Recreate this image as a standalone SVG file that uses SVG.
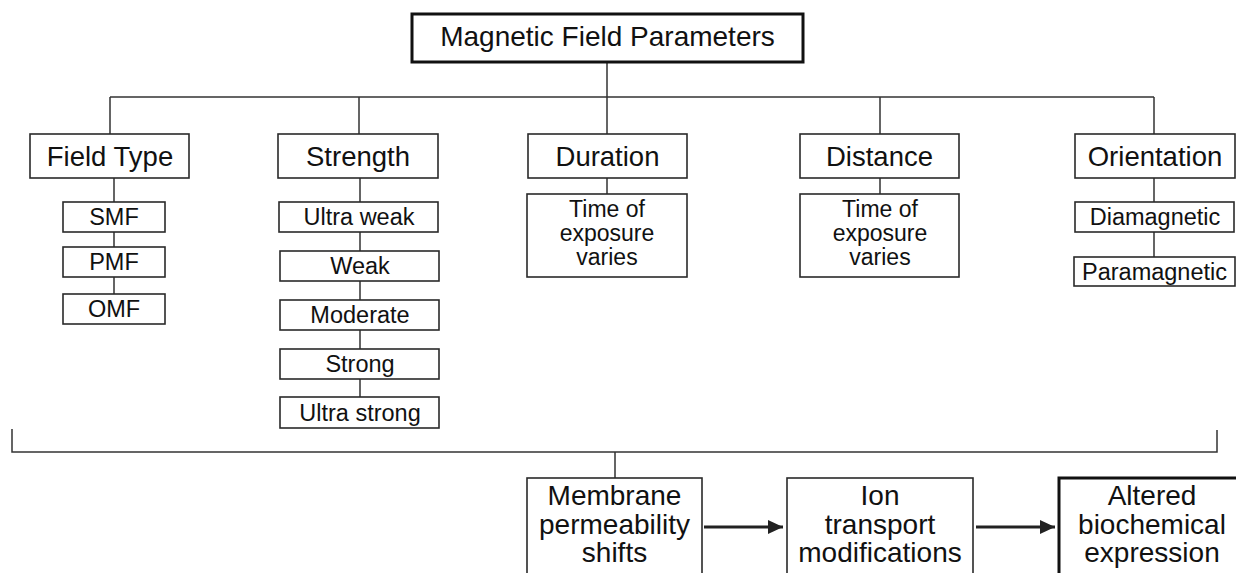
<svg xmlns="http://www.w3.org/2000/svg" width="1236" height="573" viewBox="0 0 1236 573">
<style>
.box{fill:#fff;stroke:#2a2a2a;stroke-width:1.6}
.thick{fill:#fff;stroke:#111;stroke-width:3}
.ln{fill:none;stroke:#333;stroke-width:1.5}
.arr{fill:none;stroke:#222;stroke-width:3}
text{font-family:"Liberation Sans",Arial,Helvetica,sans-serif;fill:#111;text-anchor:middle}
.t28{font-size:28px}
.t27{font-size:27.5px}
.t24{font-size:23.5px}
.t23{font-size:23px}
</style>
<defs>
<marker id="ah" viewBox="0 0 10 10" refX="10" refY="5" markerWidth="5" markerHeight="4.6" orient="auto" markerUnits="strokeWidth" preserveAspectRatio="none">
<path d="M0,0 L10,5 L0,10 Z" fill="#222"/>
</marker>
</defs>
<rect width="1236" height="573" fill="#fff"/>
<g id="connectors">
<path class="ln" d="M607,62 V97 M110,97 H1154 M110,97 V134 M359,97 V134 M607,97 V134 M880,97 V134 M1154,97 V134"/>
<path class="ln" d="M114,178 V294 M360,178 V397 M607,178 V194 M880,178 V194 M1154,178 V257"/>
<path class="ln" d="M12,429 V452 H1217 V430 M615,452 V478"/>
<path class="arr" d="M704,527 H783" marker-end="url(#ah)"/>
<path class="arr" d="M976,527 H1055" marker-end="url(#ah)"/>
</g>
<g id="root"><rect class="thick" x="412" y="14" width="391" height="48"/><text class="t28" x="607.5" y="46">Magnetic Field Parameters</text></g>
<g id="field-type"><rect class="box" x="30" y="134" width="159" height="44"/><text class="t27" x="110" y="166">Field Type</text></g>
<g id="strength"><rect class="box" x="278" y="134" width="160" height="44"/><text class="t27" x="358" y="166">Strength</text></g>
<g id="duration"><rect class="box" x="528" y="134" width="159" height="44"/><text class="t27" x="607.5" y="166">Duration</text></g>
<g id="distance"><rect class="box" x="800" y="134" width="159" height="44"/><text class="t27" x="879.5" y="166">Distance</text></g>
<g id="orientation"><rect class="box" x="1075" y="134" width="160" height="44"/><text class="t27" x="1155" y="166">Orientation</text></g>
<g id="smf"><rect class="box" x="63" y="202" width="102" height="30"/><text class="t24" x="114" y="225">SMF</text></g>
<g id="pmf"><rect class="box" x="63" y="247" width="102" height="30"/><text class="t24" x="114" y="270">PMF</text></g>
<g id="omf"><rect class="box" x="63" y="294" width="102" height="30"/><text class="t24" x="114" y="317">OMF</text></g>
<g id="ultra-weak"><rect class="box" x="279" y="202" width="159" height="30"/><text class="t24" x="359" y="225">Ultra weak</text></g>
<g id="weak"><rect class="box" x="280" y="251" width="159" height="30"/><text class="t24" x="360" y="274">Weak</text></g>
<g id="moderate"><rect class="box" x="280" y="300" width="159" height="30"/><text class="t24" x="360" y="323">Moderate</text></g>
<g id="strong"><rect class="box" x="280" y="349" width="159" height="30"/><text class="t24" x="360" y="372">Strong</text></g>
<g id="ultra-strong"><rect class="box" x="280" y="397" width="159" height="31"/><text class="t24" x="360" y="421">Ultra strong</text></g>
<g id="duration-time"><rect class="box" x="527" y="194" width="160" height="83"/><text class="t23" x="607" y="217">Time of</text><text class="t23" x="607" y="241">exposure</text><text class="t23" x="607" y="265">varies</text></g>
<g id="distance-time"><rect class="box" x="800" y="194" width="159" height="83"/><text class="t23" x="880" y="217">Time of</text><text class="t23" x="880" y="241">exposure</text><text class="t23" x="880" y="265">varies</text></g>
<g id="diamagnetic"><rect class="box" x="1075" y="202" width="159" height="30"/><text class="t24" x="1155" y="225">Diamagnetic</text></g>
<g id="paramagnetic"><rect class="box" x="1074" y="257" width="161" height="29"/><text class="t24" x="1154.5" y="280">Paramagnetic</text></g>
<g id="membrane"><rect class="box" x="527" y="478" width="175" height="120"/><text class="t28" x="614.5" y="505">Membrane</text><text class="t28" x="614.5" y="533.5">permeability</text><text class="t28" x="614.5" y="562">shifts</text></g>
<g id="ion"><rect class="box" x="787" y="478" width="186" height="120"/><text class="t28" x="880" y="505">Ion</text><text class="t28" x="880" y="533.5">transport</text><text class="t28" x="880" y="562">modifications</text></g>
<g id="altered"><rect class="thick" x="1059" y="478" width="190" height="120"/><text class="t28" x="1152" y="505">Altered</text><text class="t28" x="1152" y="533.5">biochemical</text><text class="t28" x="1152" y="562">expression</text></g>
</svg>
